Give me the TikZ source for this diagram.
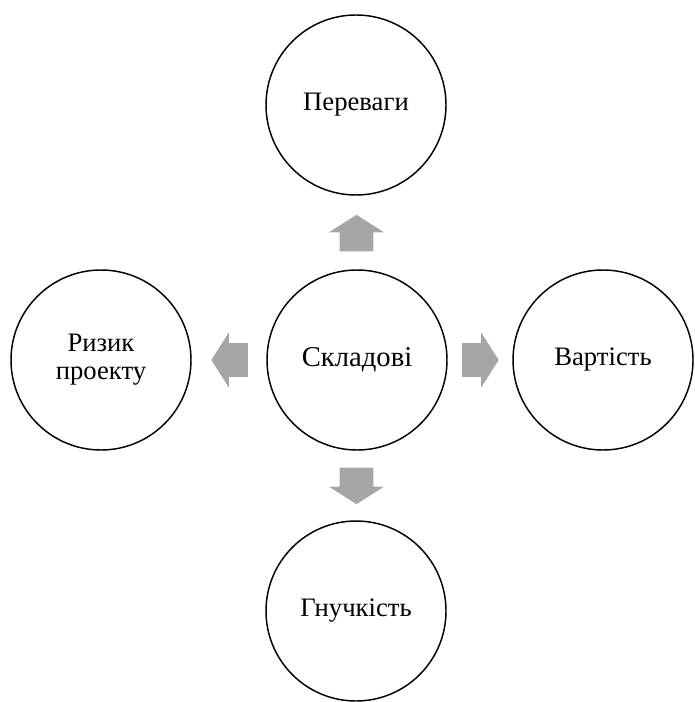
\documentclass[tikz,border=0pt]{standalone}
\usepackage{fontspec}
\setmainfont{Liberation Serif}
\usetikzlibrary{shapes.arrows,calc}
\definecolor{arrowgray}{HTML}{A6A6A6}
\begin{document}
\begin{tikzpicture}[x=0.75pt,y=-0.75pt,
    part/.style={draw,circle,line width=1.1pt,minimum size=135pt,inner sep=0pt,
      align=center,font=\fontsize{20}{21}\selectfont},
    blockarrow/.style={single arrow,fill=arrowgray,draw=none,inner xsep=0pt,inner ysep=12.4pt,
      minimum height=27.5pt,minimum width=40.5pt,
      single arrow head extend=8pt,single arrow tip angle=115}]
  \useasboundingbox (0,0) rectangle (694,702);
  % circles
  \node[part,font=\fontsize{21.5}{23}\selectfont] (center) at (357,360) {Складові};
  \node[part] (top) at (356,105) {Переваги};
  \node[part] (left) at (101,360) {Ризик\\проекту};
  \node[part] (right) at (603,360) {Вартість};
  \node[part] (bottom) at (356,611) {Гнучкість};
  % arrows
  \node[blockarrow,rotate=90] (toTop) at ($(center.north)!0.5!(top.south)+(0,6)$) {};
  \node[blockarrow,rotate=180] (toLeft) at ($(center.west)!0.5!(left.east)+(6,0)$) {};
  \node[blockarrow] (toRight) at ($(center.east)!0.5!(right.west)+(-5,0)$) {};
  \node[blockarrow,rotate=270] (toBottom) at ($(center.south)!0.5!(bottom.north)+(0,-5)$) {};
\end{tikzpicture}
\end{document}
